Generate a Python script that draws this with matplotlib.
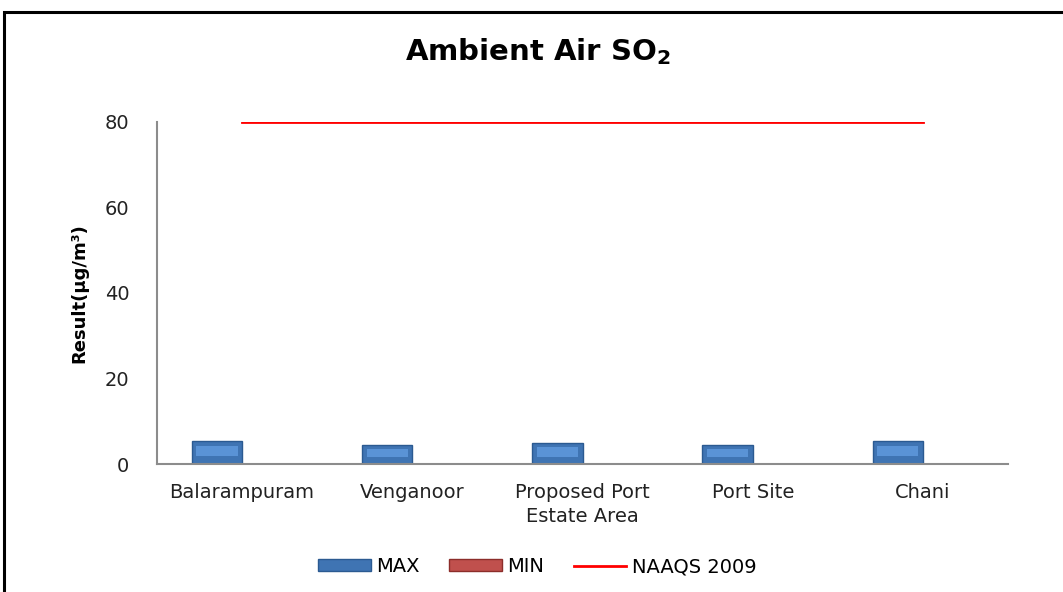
import matplotlib.pyplot as plt
from matplotlib.patches import Rectangle
import numpy as np

# data
sites = ["Balarampuram", "Venganoor", "Proposed Port\nEstate Area", "Port Site", "Chani"]
so2_max = [5.4, 4.4, 4.9, 4.4, 5.4]
so2_min = [0, 0, 0, 0, 0]
naaqs = [80, 80, 80, 80, 80]

plt.rcParams['font.family'] = ['DejaVu Sans']

fig = plt.figure(figsize=(10.63, 5.92), dpi=100)
ax = fig.add_axes([157/1063, 1-464/592, (1008-157)/1063, (464-122)/592])

x = np.arange(len(sites))
w = 0.295
h_max = ax.bar(x - w/2, so2_max, w, color='#3F74B3', edgecolor='#2B5A91', linewidth=1, label='MAX', zorder=2)
# lighter inner band to mimic the bevel look
ax.bar(x - w/2, [v*0.45 for v in so2_max], w*0.82, bottom=[v*0.35 for v in so2_max],
       color='#5A93D6', linewidth=0, zorder=3)
h_min = ax.bar(x + w/2, so2_min, w, color='#C0504D', edgecolor='#8C2D2A', linewidth=1, label='MIN', zorder=2)
h_line, = ax.plot(x, naaqs, color='#FF0000', linewidth=2, label='NAAQS 2009', zorder=4)

ax.set_xlim(-0.5, len(sites) - 0.5)
ax.set_ylim(0, 80)
ax.set_yticks([0, 20, 40, 60, 80])
ax.set_xticks(x)
ax.set_xticklabels(sites, fontsize=14, color='#222222', linespacing=1.3)
ax.tick_params(axis='y', labelsize=14, colors='#222222', length=0, pad=20)
ax.tick_params(axis='x', length=0, pad=14)
for s in ['top', 'right']:
    ax.spines[s].set_visible(False)
for s in ['left', 'bottom']:
    ax.spines[s].set_color('#8C8C8C')
    ax.spines[s].set_linewidth(1.5)

ax.set_ylabel('Result(µg/m³)', fontsize=13, fontweight='bold', labelpad=12)

fig.text(538/1063, 1-52/592, 'Ambient Air SO$_\\mathbf{2}$', ha='center', va='center',
         fontsize=21, fontweight='bold')

leg = ax.legend([h_max, h_min, h_line], ['MAX', 'MIN', 'NAAQS 2009'],
                loc='center', bbox_to_anchor=(0.447, -0.3), ncol=3, frameon=False,
                fontsize=14, handlelength=2.7, handleheight=0.55, columnspacing=1.5,
                handletextpad=0.3)

# outer chart border
fig.patches.append(Rectangle((4/1063, -0.05), 1.1, 1-12/592 + 0.05, transform=fig.transFigure,
                             fill=False, edgecolor='black', linewidth=2.2, zorder=10))

fig.savefig('out.png', dpi=100)
